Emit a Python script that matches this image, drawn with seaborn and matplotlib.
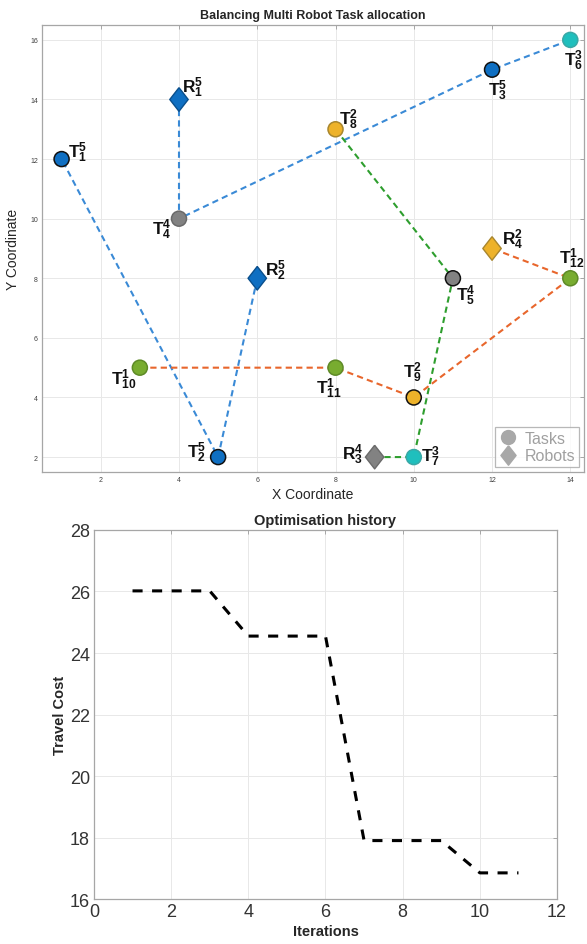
import matplotlib
matplotlib.use("Agg")
import matplotlib.pyplot as plt
from matplotlib.lines import Line2D
import pandas as pd
import seaborn as sns

# task / robot positions
task_names = ["T1", "T4", "T8", "T3", "T6", "T5", "T12", "T10", "T11", "T9", "T2", "T7"]
task_x = [1, 4, 8, 12, 14, 11, 14, 3, 8, 10, 5, 10]
task_y = [12, 10, 13, 15, 16, 8, 8, 5, 5, 4, 2, 2]
task_labels = ["T^{5}_{1}", "T^{4}_{4}", "T^{2}_{8}", "T^{5}_{3}", "T^{3}_{6}", "T^{4}_{5}",
               "T^{1}_{12}", "T^{1}_{10}", "T^{1}_{11}", "T^{2}_{9}", "T^{5}_{2}", "T^{3}_{7}"]
task_group = ["blue", "gray", "yellow", "blue", "cyan", "gray",
              "green", "green", "green", "yellow", "blue", "cyan"]
task_dark_edge = [True, False, False, True, False, True, False, False, False, True, True, False]

robot_names = ["R1", "R2", "R4", "R3"]
robot_x = [4, 6, 12, 9]
robot_y = [14, 8, 9, 2]
robot_labels = ["R^{5}_{1}", "R^{5}_{2}", "R^{2}_{4}", "R^{4}_{3}"]
robot_group = ["blue", "blue", "yellow", "gray"]

# routes
route_blue_a_x = [4, 4, 12, 14]
route_blue_a_y = [14, 10, 15, 16]
route_blue_b_x = [6, 5, 1]
route_blue_b_y = [8, 2, 12]
route_green_x = [8, 11, 10, 9]
route_green_y = [13, 8, 2, 2]
route_orange_x = [3, 8, 10, 14, 12]
route_orange_y = [5, 5, 4, 8, 9]

# optimisation history
iterations = [1, 2, 3, 4, 5, 6, 7, 8, 9, 10, 11]
travel_cost = [26.02, 26.02, 26.02, 24.55, 24.55, 24.55, 17.9, 17.9, 17.9, 16.85, 16.85]

fill = {"blue": "#0F6FC2", "gray": "#828282", "yellow": "#EDB22A",
        "cyan": "#1FBFBD", "green": "#78AC30"}
soft_edge = {"blue": "#0A4F8C", "gray": "#6A6A6A", "yellow": "#A8862E",
             "cyan": "#3AA8A6", "green": "#5E8A27"}
route_col = {"blue": "#3A8AD6", "green": "#2E9E2E", "orange": "#E8662C"}

task_off = [(11.5, 5), (-12.2, -7.6), (9.7, 7.9), (4, -14.4), (2, -14.4), (9, -12.2),
            (1, 15), (-11.2, -8), (-5, -14.4), (-1, 18.4), (-15.8, 3.6), (11.9, 0.7)]
robot_off = [(9.7, 9.4), (13, 5.8), (14.8, 6.8), (-15.5, 2.2)]

sns.set_style("white")
plt.rcParams["font.family"] = ["Liberation Sans", "DejaVu Sans"]
plt.rcParams["mathtext.fontset"] = "custom"
plt.rcParams["mathtext.rm"] = "Liberation Sans"
plt.rcParams["mathtext.bf"] = "Liberation Sans:bold"
plt.rcParams["mathtext.default"] = "bf"

fig = plt.figure(figsize=(5.87, 9.45), dpi=100)
ax1 = fig.add_axes([0.0716, 0.4995, 0.9233, 0.473])
ax2 = fig.add_axes([0.160, 0.0476, 0.789, 0.3905])


def matlab_style(ax, tick_size, tick_color):
    ax.grid(True, color="#e8e8e8", linewidth=0.7)
    ax.set_axisbelow(True)
    for s in ax.spines.values():
        s.set_color("#a6a6a6")
        s.set_linewidth(0.9)
        s.set_visible(True)
    ax.tick_params(direction="in", length=3, width=0.7, color="#a6a6a6",
                   top=True, right=True, labelsize=tick_size, labelcolor=tick_color, pad=3)


# ---------- top: allocation ----------
for xs, ys, c in [(route_blue_a_x, route_blue_a_y, "blue"), (route_blue_b_x, route_blue_b_y, "blue"),
                  (route_green_x, route_green_y, "green"), (route_orange_x, route_orange_y, "orange")]:
    sns.lineplot(x=xs, y=ys, sort=False, estimator=None, ax=ax1, color=route_col[c],
                 linewidth=1.5, dashes=False, zorder=2)
for line in ax1.lines:
    line.set_dashes((3.0, 2.0))

tasks = pd.DataFrame({"name": task_names, "x": task_x, "y": task_y, "g": task_group})
t_edges = ["#111111" if d else soft_edge[g] for d, g in zip(task_dark_edge, task_group)]
sns.scatterplot(data=tasks, x="x", y="y", hue="name",
                palette={n: fill[g] for n, g in zip(task_names, task_group)},
                s=117, edgecolor=t_edges, linewidth=1.1, legend=False, ax=ax1, zorder=3)

diamond = [(0, 1), (0.78, 0), (0, -1), (-0.78, 0), (0, 1)]
robots = pd.DataFrame({"name": robot_names, "x": robot_x, "y": robot_y})
r_edges = [soft_edge[g] for g in robot_group]
sns.scatterplot(data=robots, x="x", y="y", hue="name",
                palette={n: fill[g] for n, g in zip(robot_names, robot_group)},
                s=290, marker=diamond, edgecolor=r_edges, linewidth=1.0,
                legend=False, ax=ax1, zorder=3)

for xx, yy, lab, off in zip(task_x + robot_x, task_y + robot_y,
                            task_labels + robot_labels, task_off + robot_off):
    ax1.annotate("$" + lab + "$", (xx, yy), xytext=off, textcoords="offset points",
                 ha="center", va="center", fontsize=12.5, color="#111111", zorder=4)

ax1.set_xlim(0.5, 14.35)
ax1.set_ylim(1.5, 16.5)
ax1.set_xticks(range(2, 15, 2))
ax1.set_yticks(range(2, 17, 2))
matlab_style(ax1, 5, "#404040")
ax1.set_title("Balancing Multi Robot Task allocation", fontsize=9, fontweight="bold", pad=5)
ax1.set_xlabel("X Coordinate", fontsize=10, labelpad=3)
ax1.set_ylabel("Y Coordinate", fontsize=10, labelpad=7)

handles = [Line2D([], [], marker="o", linestyle="none", markersize=10,
                  markerfacecolor="#a8a8a8", markeredgecolor="#a8a8a8"),
           Line2D([], [], marker=diamond, linestyle="none", markersize=14,
                  markerfacecolor="#a8a8a8", markeredgecolor="#a8a8a8")]
leg = ax1.legend(handles, ["Tasks", "Robots"], loc="lower right", fontsize=11.5,
                 labelcolor="#a0a0a0", frameon=True, fancybox=False, edgecolor="#a6a6a6",
                 handlelength=1.1, handletextpad=0.5, labelspacing=0.15,
                 borderpad=0.25, borderaxespad=0.3)
leg.get_frame().set_linewidth(0.9)

# ---------- bottom: optimisation history ----------
sns.lineplot(x=iterations, y=travel_cost, ax=ax2, color="black", linewidth=2.2,
             estimator=None, sort=False)
ax2.lines[0].set_dashes((3.3, 3.1))
ax2.lines[0].set_dash_capstyle("butt")
ax2.set_xlim(0, 12)
ax2.set_ylim(16, 28)
ax2.set_xticks(range(0, 13, 2))
ax2.set_yticks(range(16, 29, 2))
matlab_style(ax2, 13, "#333333")
ax2.set_title("Optimisation history", fontsize=10.5, fontweight="bold", pad=4)
ax2.set_xlabel("Iterations", fontsize=10.5, fontweight="bold", labelpad=3)
ax2.set_ylabel("Travel Cost", fontsize=10.5, fontweight="bold", labelpad=2)

fig.savefig("out.png", dpi=100)
